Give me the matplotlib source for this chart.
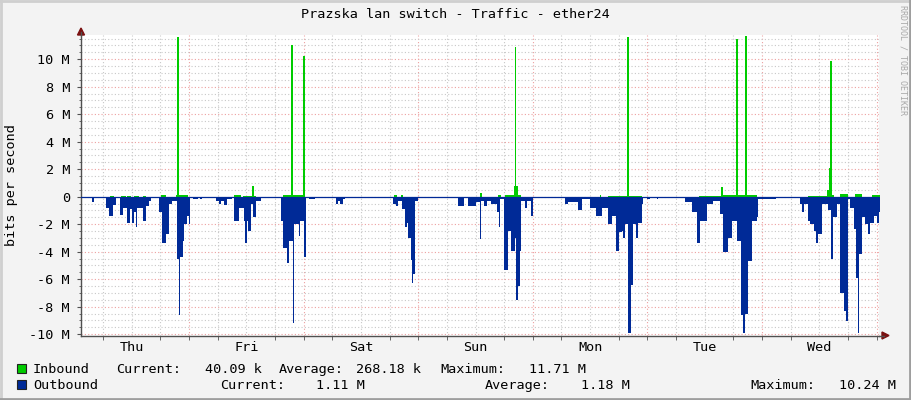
import matplotlib
matplotlib.use("Agg")
import matplotlib.pyplot as plt
from matplotlib.lines import Line2D
from matplotlib.patches import Rectangle, Polygon
import numpy as np

plt.rcParams["font.family"] = ["DejaVu Sans Mono"]
FS = 9.7

W, H = 911, 400

# hours since Thu 00:00, values in M bits/s (step data, value holds until next time)
in_t = [1.3, 7.5, 8.3, 9.7, 10.8, 11.1, 11.8, 12.5, 13.6, 14.3, 15.0, 18.1, 19.2, 21.3,
        21.5, 21.8, 23.7, 33.5, 34.9, 35.2, 37.2, 37.6, 38.0, 43.6, 45.4, 45.7, 47.9, 48.2,
        67.0, 67.5, 68.4, 68.9, 84.9, 85.4, 88.7, 89.4, 90.1, 92.0, 92.3, 92.5, 92.9, 93.6,
        110.0, 110.3, 111.8, 115.8, 116.1, 118.8, 130.7, 135.4, 135.9, 138.6, 138.9, 140.5,
        140.8, 143.0, 153.7, 157.6, 158.0, 158.3, 158.6, 159.0, 160.4, 162.1, 163.5, 164.9,
        167.0, 168.7]
in_v = [0.0, 0.08, 0.0, 0.08, 0.0, 0.08, 0.0, 0.08, 0.0, 0.08, 0.0, 0.15, 0.0, 0.12,
        11.6, 0.12, 0.0, 0.1, 0.0, 0.08, 0.8, 0.08, 0.0, 0.15, 11.0, 0.12, 10.2, 0.0,
        0.1, 0.0, 0.1, 0.0, 0.3, 0.0, 0.1, 0.0, 0.1, 0.8, 10.9, 0.8, 0.1, 0.0,
        0.1, 0.0, 0.08, 11.6, 0.08, 0.0, 0.08, 0.7, 0.1, 11.5, 0.15, 11.7,
        0.15, 0.0, 0.07, 0.45, 2.1, 9.9, 0.1, 0.0, 0.2, 0.0, 0.2, 0.0,
        0.1, 0.1]

out_t = [1.3, 3.6, 4.2, 6.6, 7.3, 8.1, 8.7, 9.6, 10.1, 11.1, 11.6, 12.0, 12.5, 13.0, 13.2,
         14.3, 15.0, 15.7, 16.0, 17.8, 18.3, 19.2, 19.9, 20.4, 21.5, 21.8, 22.1, 22.7, 23.0,
         23.6, 24.1, 24.3, 24.9, 25.8, 26.2, 26.7,
         29.7, 30.2, 30.7, 31.3, 32.0, 33.0, 33.5, 34.5, 35.6, 35.8, 36.1, 36.3, 37.0, 37.5,
         38.0, 39.0, 43.3, 43.6, 44.5, 44.9, 45.7, 46.0, 47.0, 47.3, 48.0, 48.4, 49.2, 50.3,
         54.8, 55.3, 55.7, 56.2, 56.6,
         59.0, 59.4, 66.7, 67.3, 67.8, 68.5, 69.2, 69.6, 69.9, 70.4, 70.7, 71.0, 71.4, 72.0,
         80.3, 81.6, 82.4, 84.0, 84.9, 85.2, 85.8,
         86.3, 87.3, 88.4, 88.9, 89.1, 90.0, 90.8, 91.5, 92.2, 92.4, 92.8, 93.3, 93.6, 94.3,
         94.8, 95.7, 96.1, 102.7, 103.4, 105.5, 106.2, 108.0, 109.3, 110.4, 111.8, 112.5,
         113.5, 114.1,
         114.6, 114.9, 115.3, 116.0, 116.5, 117.0, 117.7, 118.1, 118.8, 119.1, 120.0, 120.5,
         121.9, 122.3, 127.9, 129.3, 130.3, 131.0, 132.4, 133.8, 135.2, 135.9, 136.8, 137.6,
         138.7, 139.6, 140.1, 140.4, 141.1, 141.8, 142.9,
         143.2, 147.0, 151.9, 152.3, 152.8, 153.7, 154.1, 154.8, 155.3, 155.8, 156.5, 157.9,
         158.4, 158.8, 159.7, 160.4, 161.2, 161.6, 161.9, 162.5, 163.2, 163.7, 164.1, 164.4,
         164.9, 165.6, 166.2, 166.5, 167.4, 168.0, 168.4, 168.7]
out_v = [0.05, 0.4, 0.05, 0.8, 1.4, 0.6, 0.05, 1.3, 0.8, 1.95, 0.9, 1.9, 1.1, 2.2, 0.8,
         1.75, 0.7, 0.3, 0.05, 1.15, 3.4, 2.7, 0.5, 0.3, 4.55, 8.6, 4.4, 3.2, 2.0,
         1.4, 2.0, 0.05, 0.2, 0.05, 0.15, 0.03,
         0.3, 0.5, 0.3, 0.6, 0.2, 0.1, 1.75, 0.8, 1.75, 3.4, 1.8, 2.5, 0.5, 1.5,
         0.3, 0.05, 1.75, 3.7, 4.8, 3.2, 9.2, 2.0, 2.85, 1.8, 4.4, 0.03, 0.2, 0.03,
         0.55, 0.3, 0.5, 0.2, 0.05,
         0.1, 0.02, 0.55, 0.7, 0.3, 0.9, 2.2, 1.9, 3.0, 4.6, 6.25, 5.6, 0.3, 0.0,
         0.65, 0.05, 0.65, 0.4, 3.1, 0.3, 0.65,
         0.3, 0.55, 1.15, 2.2, 0.15, 5.3, 2.5, 3.95, 3.0, 7.5, 6.5, 3.95, 0.3, 0.8,
         0.3, 1.4, 0.0, 0.55, 0.4, 1.0, 0.15, 0.8, 1.4, 0.8, 2.0, 1.4,
         3.95, 2.6,
         2.5, 3.0, 2.0, 9.9, 6.4, 2.0, 3.0, 1.95, 0.5, 0.0, 0.2, 0.0,
         0.2, 0.0, 0.4, 1.15, 3.35, 1.75, 0.55, 0.3, 1.25, 4.05, 3.0, 1.75,
         3.2, 8.6, 9.9, 8.5, 4.7, 1.75, 1.5,
         0.15, 0.05, 0.5, 1.15, 0.5, 1.75, 2.0, 2.5, 3.35, 2.7, 0.5, 1.0,
         4.55, 1.5, 0.5, 7.0, 8.3, 9.05, 0.15, 0.8, 2.35, 5.9, 9.9, 4.2,
         1.5, 2.0, 2.7, 1.9, 1.4, 1.9, 1.1, 1.1]

days = ["Thu", "Fri", "Sat", "Sun", "Mon", "Tue", "Wed"]
yticks = [-10, -8, -6, -4, -2, 0, 2, 4, 6, 8, 10]

legend_rows = [
    ("Inbound", "#00cc00", [("Current:", 116), ("40.09 k", 204.6), ("Average:", 279),
                            ("268.18 k", 356), ("Maximum:", 440), ("11.71 M", 529)]),
    ("Outbound", "#002a97", [("Current:", 220), ("1.11 M", 316), ("Average:", 485),
                             ("1.18 M", 581), ("Maximum:", 750), ("10.24 M", 839)]),
]

fig = plt.figure(figsize=(W / 100, H / 100), dpi=100, facecolor="#f3f3f3")

def fx(x):
    return x / W

def fy(y):
    return 1 - y / H

x0, x1 = 81, 879.3
y0, y1 = 35, 335.5
ax = fig.add_axes([fx(x0), fy(y1), (x1 - x0) / W, (y1 - y0) / H])
ax.set_facecolor("white")
ax.set_xlim(1.38, 168.55)
ax.set_ylim(-10.1, 11.76)

# grid
for h in np.arange(6, 169, 6):
    if h % 24 == 0:
        ax.axvline(h, color="#eda0a0", lw=0.8, ls=(0, (1, 2)), zorder=0)
    else:
        ax.axvline(h, color="#c8c8c8", lw=0.8, ls=(0, (1, 2)), zorder=0)
for v in np.arange(-10, 11.6, 0.5):
    if v % 2 == 0:
        ax.axhline(v, color="#eda0a0", lw=0.8, ls=(0, (1, 2)), zorder=0)
    else:
        ax.axhline(v, color="#c8c8c8", lw=0.8, ls=(0, (1, 2)), zorder=0)

it = np.array(in_t + [168.8])
iv = np.array(in_v + [in_v[-1]])
ot = np.array(out_t + [168.8])
ov = np.array(out_v + [out_v[-1]])

ax.fill_between(it, 0, iv, step="post", color="#00cc00", lw=0, zorder=2)
ax.fill_between(ot, 0, -ov, step="post", color="#002a97", lw=0, zorder=2)
ax.axhline(0, color="#002a97", lw=0.9, zorder=3)

for s in ["top", "right"]:
    ax.spines[s].set_visible(False)
for s in ["left", "bottom"]:
    ax.spines[s].set_color("#505050")
    ax.spines[s].set_linewidth(1.0)

ax.set_xticks([12 + 24 * i for i in range(7)])
ax.set_xticklabels(days, fontsize=FS)
ax.set_xticks(np.arange(6, 169, 6), minor=True)
ax.tick_params(axis="x", which="major", length=0, pad=4)
ax.tick_params(axis="x", which="minor", length=3, color="#505050")
ax.set_yticks(yticks)
ax.set_yticklabels([("%d M" % v) if v != 0 else "0" for v in yticks], fontsize=FS)
ax.set_yticks(np.arange(-10, 11.6, 0.5), minor=True)
ax.tick_params(axis="y", which="major", length=3, color="#505050", pad=5)
ax.tick_params(axis="y", which="minor", length=1.5, color="#505050")

# arrows on axes
fig.add_artist(Line2D([fx(x1), fx(884)], [fy(y1), fy(y1)], color="#505050", lw=1.0))
fig.add_artist(Line2D([fx(x0), fx(x0)], [fy(y0), fy(32)], color="#505050", lw=1.0))
fig.add_artist(Polygon([[fx(882), fy(332)], [fx(882), fy(339)], [fx(889), fy(335.5)]],
                       closed=True, color="#7a1010", transform=fig.transFigure))
fig.add_artist(Polygon([[fx(77.5), fy(35)], [fx(84.5), fy(35)], [fx(81), fy(28)]],
                       closed=True, color="#7a1010", transform=fig.transFigure))

fig.text(fx(455), fy(14), "Prazska lan switch - Traffic - ether24", fontsize=FS,
         ha="center", va="center", color="#000000")
fig.text(fx(12), fy(185.5), "bits per second", fontsize=FS, rotation=90,
         ha="center", va="center")
fig.text(fx(903), fy(60), "RRDTOOL / TOBI OETIKER", fontsize=6.0, rotation=270,
         ha="center", va="center", color="#a8a8a8")

for row, (name, col, items) in enumerate(legend_rows):
    yc = 368 + 16 * row
    fig.add_artist(Rectangle((fx(17), fy(yc + 4.5)), 9 / W, 9 / H, facecolor=col,
                             edgecolor="#222222", lw=0.8, transform=fig.transFigure))
    fig.text(fx(33), fy(yc), name, fontsize=FS, ha="left", va="center_baseline")
    for txt, xp in items:
        fig.text(fx(xp), fy(yc), txt, fontsize=FS, ha="left", va="center_baseline")

# 3d frame
fig.add_artist(Line2D([0, 1], [fy(1), fy(1)], color="#cfcfcf", lw=2))
fig.add_artist(Line2D([fx(1), fx(1)], [0, 1], color="#cfcfcf", lw=2))
fig.add_artist(Line2D([0, 1], [fy(399), fy(399)], color="#9e9e9e", lw=2))
fig.add_artist(Line2D([fx(910), fx(910)], [0, 1], color="#9e9e9e", lw=2))

fig.savefig("out.png", dpi=100, facecolor=fig.get_facecolor())
